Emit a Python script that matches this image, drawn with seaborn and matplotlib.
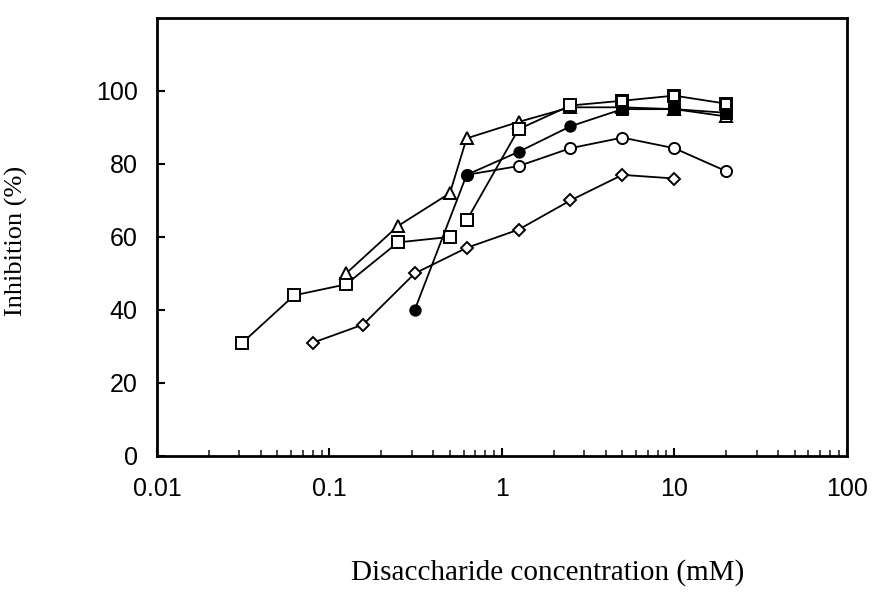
import pandas as pd
import matplotlib.pyplot as plt
import seaborn as sns
from matplotlib.ticker import FixedLocator, LogLocator, NullFormatter

# values (concentration in mM, inhibition in %)
sq_a_x = [0.03125, 0.0625, 0.125, 0.25, 0.5]
sq_a_y = [31, 44, 47, 58.5, 60]

sq_b_x = [0.625, 1.25, 2.5, 5, 10, 20]
sq_b_y = [64.5, 89.5, 96, 97.3, 98.7, 96.5]

tri_x = [0.125, 0.25, 0.5, 0.625, 1.25, 2.5, 5, 10, 20]
tri_y = [50, 63, 72, 87, 91.5, 95.5, 95.5, 95, 93]

fcirc_x = [0.3125, 0.625, 1.25, 2.5, 5, 10, 20]
fcirc_y = [40, 77, 83.3, 90.3, 95, 95, 94]

ocirc_x = [0.625, 1.25, 2.5, 5, 10, 20]
ocirc_y = [77, 79.4, 84.3, 87.2, 84.3, 78]

diam_x = [0.08, 0.157, 0.3125, 0.625, 1.25, 2.5, 5, 10]
diam_y = [31, 36, 50, 57, 62, 70, 77, 76]

sns.set_theme(style="ticks")
plt.rcParams["font.family"] = ["Liberation Sans", "DejaVu Sans"]

fig = plt.figure(figsize=(8.72, 5.96), dpi=100)
ax = fig.add_axes([0.180, 0.235, 0.791, 0.735])

series = [
    (diam_x, diam_y, "D", "white", 6),
    (ocirc_x, ocirc_y, "o", "white", 8),
    (sq_a_x, sq_a_y, "s", "white", 9),
    (tri_x, tri_y, "^", "white", 9),
    (fcirc_x, fcirc_y, "o", "black", 7.5),
    (sq_b_x, sq_b_y, "s", "white", 9),
]

for xs, ys, mk, fc, ms in series:
    d = pd.DataFrame({"conc": xs, "inh": ys})
    sns.lineplot(data=d, x="conc", y="inh", sort=False, color="black",
                 linewidth=1.3, marker=mk, markersize=ms,
                 markerfacecolor=fc, markeredgecolor="black",
                 markeredgewidth=1.4, ax=ax)

# the filled squares sitting under the open ones at the plateau
fsq = pd.DataFrame({"conc": fcirc_x[-3:], "inh": fcirc_y[-3:]})
sns.scatterplot(data=fsq, x="conc", y="inh", marker="s", s=70, color="black",
                edgecolor="black", ax=ax, zorder=3)
ob = pd.DataFrame({"conc": sq_b_x[-3:], "inh": sq_b_y[-3:]})
sns.scatterplot(data=ob, x="conc", y="inh", marker="s", s=55, color="white",
                edgecolor="black", linewidth=1.4, ax=ax, zorder=4)

ax.set_xscale("log")
ax.set_xlim(0.01, 100)
ax.set_ylim(0, 120)
ax.yaxis.set_major_locator(FixedLocator([0, 20, 40, 60, 80, 100]))
ax.xaxis.set_major_locator(FixedLocator([0.01, 0.1, 1, 10, 100]))
ax.xaxis.set_minor_locator(LogLocator(base=10, subs=range(2, 10)))
ax.xaxis.set_minor_formatter(NullFormatter())
ax.set_xticklabels(["0.01", "0.1", "1", "10", "100"])

for s in ax.spines.values():
    s.set_linewidth(2)
    s.set_color("black")

ax.tick_params(axis="both", which="major", direction="in", length=6, width=1.5,
               labelsize=18, colors="black")
ax.tick_params(axis="x", which="major", pad=15)
ax.tick_params(axis="y", which="major", pad=14)
ax.tick_params(axis="x", which="minor", direction="in", length=4, width=1.2)

ax.set_xlabel("Disaccharide concentration (mM)", family="Liberation Serif",
              fontsize=21, color="black")
ax.set_ylabel("Inhibition (%)", family="Liberation Serif", fontsize=19,
              color="black")
ax.xaxis.set_label_coords(0.567, -0.235)
ax.yaxis.set_label_coords(-0.187, 0.49)

plt.savefig("out.png", dpi=100)
